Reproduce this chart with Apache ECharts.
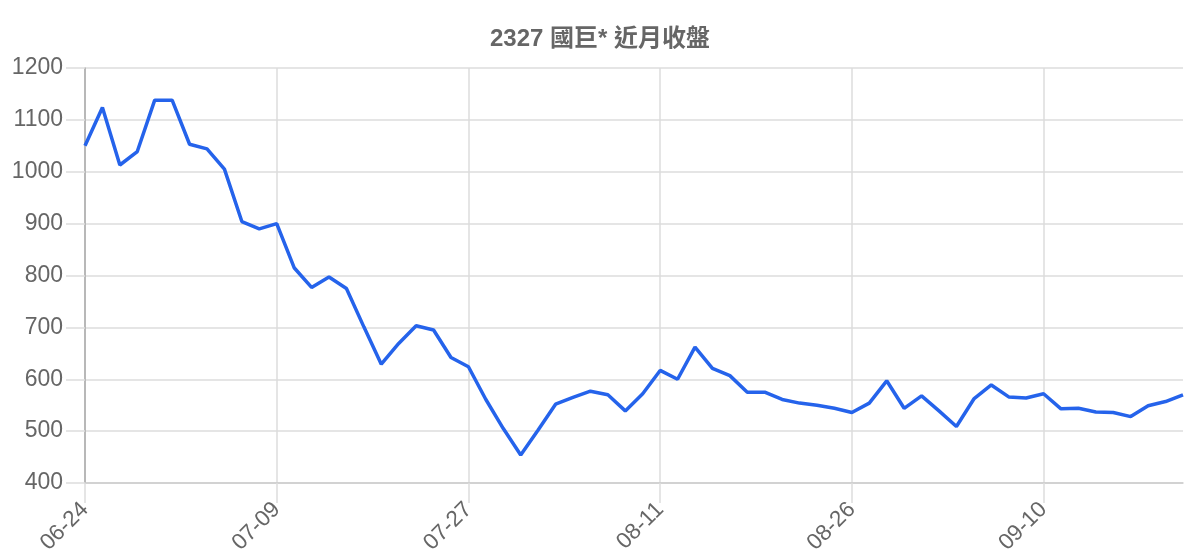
<!DOCTYPE html>
<html>
	<head>
		<meta charset="utf-8" />
		<title>2327 國巨* 近月收盤</title>
		<script src="https://cdn.jsdelivr.net/npm/echarts@6/dist/echarts.min.js"></script>
		<style>
			html, body { margin: 0; padding: 0; background: #fff; }
			#main { width: 1200px; height: 560px; }
		</style>
	</head>
	<body>
		<div id="main"></div>
	</body>
	<script type="text/javascript">
		// 日期 / 收盤價
		var dates = ['06-24','06-25','06-26','06-27','06-28','07-01','07-02','07-03','07-04','07-05',
			'07-08','07-09','07-10','07-11','07-12','07-15','07-16','07-17','07-18','07-19',
			'07-22','07-26','07-27','07-29','07-30','07-31','08-01','08-02','08-05','08-06',
			'08-07','08-08','08-09','08-11','08-12','08-13','08-14','08-15','08-16','08-19',
			'08-20','08-21','08-22','08-23','08-26','08-27','08-28','08-29','08-30','09-02',
			'09-03','09-04','09-05','09-06','09-09','09-10','09-11','09-12','09-13','09-16',
			'09-17','09-18','09-19','09-20'];
		var closes = [1050,1124,1013,1039,1138,1138,1053,1044,1005,904,
			890,900,815,777,797,775,701,629,669,703,
			695,642,624,561,505,454,502,552,565,577,
			570,539,572,617,600,662,621,607,575,575,
			561,554,550,544,536,554,597,544,568,539,
			509,562,589,566,564,572,543,544,537,536,
			528,549,557,570];
		var yTicks = [400, 1200, 100]; // min, max, interval

		var font = "'Liberation Sans', 'Noto Sans CJK TC', sans-serif";
		var myChart = echarts.init(document.getElementById("main"));
		var option = {
			animation: false,
			textStyle: { fontFamily: font },
			title: {
				text: '2327 國巨* 近月收盤',
				left: 'center',
				top: 22,
				textStyle: { fontSize: 24, fontWeight: 'bold', color: '#666', fontFamily: font }
			},
			grid: { left: 85, right: 17, top: 68, bottom: 77 },
			xAxis: {
				type: 'category',
				data: dates,
				boundaryGap: false,
				axisLine: { lineStyle: { color: '#ccc', width: 1.5 } },
				axisTick: { show: true, length: 20, interval: 10, lineStyle: { color: '#ddd', width: 1.5 } },
				splitLine: { show: true, interval: 10, lineStyle: { color: '#ddd', width: 1.5 } },
				axisLabel: { interval: 10, rotate: 45, margin: 23, fontSize: 22.5, color: '#666', fontFamily: font }
			},
			yAxis: {
				type: 'value',
				min: yTicks[0],
				max: yTicks[1],
				interval: yTicks[2],
				axisLine: { show: true, lineStyle: { color: '#aaa', width: 1.5 } },
				axisTick: { show: true, length: 19, lineStyle: { color: '#ddd', width: 1.5 } },
				splitLine: { show: true, lineStyle: { color: '#ddd', width: 1.5 } },
				axisLabel: {
					margin: 22, fontSize: 23, color: '#666', fontFamily: font,
					formatter: function (v) { return String(v); }
				}
			},
			series: [{
				type: 'line',
				data: closes,
				symbol: 'none',
				lineStyle: { color: '#2563eb', width: 3.5 },
				itemStyle: { color: '#2563eb' }
			}]
		};
		myChart.setOption(option);
	</script>
</html>
